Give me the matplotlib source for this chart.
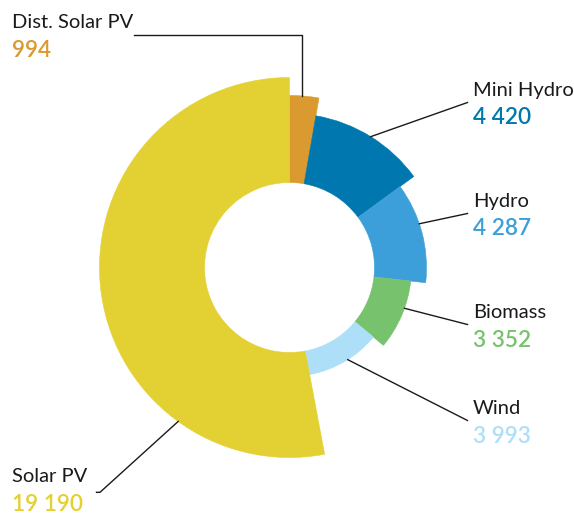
import numpy as np
import matplotlib
matplotlib.use("Agg")
import matplotlib.pyplot as plt
from matplotlib.patches import Wedge

# ---- data ----
categories = ["Dist. Solar PV", "Mini Hydro", "Hydro", "Biomass", "Wind", "Solar PV"]
values = [994, 4420, 4287, 3352, 3993, 19190]
value_labels = ["994", "4 420", "4 287", "3 352", "3 993", "19 190"]

# ---- style ----
colors = ["#DA9A30", "#0077AE", "#3C9FD9", "#77C36D", "#ADE0F8", "#E3D033"]
outer_r = [172, 154, 137, 122, 109, 190]
inner_r = 85
W, H = 574, 516
cx, cy = 289.5, H - 267.5

fig = plt.figure(figsize=(W / 100, H / 100), dpi=100)
ax = fig.add_axes([0, 0, 1, 1])
ax.set_xlim(0, W)
ax.set_ylim(0, H)
ax.set_aspect("equal")
ax.axis("off")

total = float(sum(values))
angles = []
start = 90.0
for v, c, r in zip(values, colors, outer_r):
    span = v / total * 360.0
    t2 = start
    t1 = start - span
    ax.add_patch(Wedge((cx, cy), r, t1, t2, width=r - inner_r,
                       facecolor=c, edgecolor=c, linewidth=0.4))
    angles.append((t1, t2))
    start = t1

def pt(angle, r):
    a = np.deg2rad(angle)
    return cx + r * np.cos(a), cy + r * np.sin(a)

name_font = dict(family="Lato", fontsize=14.5, color="#1a1a1a")
val_font = dict(family="Lato", fontsize=16.3, fontweight="semibold")

# label layout: (x, name baseline from top, value baseline from top)
label_pos = [(12, 28, 57), (473, 96, 124), (473, 207, 235),
             (473, 318, 347), (473, 414, 443), (12, 482, 511)]
# leader anchor angle offsets from wedge mid-angle
anchor_offset = [0.8, 0, 3.7, 3.5, 1.8, 48.8]

lc = "#1a1a1a"
lw = 1.0
for i, (name, vl) in enumerate(zip(categories, value_labels)):
    x, yb1, yb2 = label_pos[i]
    ax.text(x, H - yb1, name, ha="left", va="baseline", **name_font)
    ax.text(x, H - yb2, vl, ha="left", va="baseline", color=colors[i], **val_font)
    t1, t2 = angles[i]
    mid = (t1 + t2) / 2 + anchor_offset[i]
    px, py = pt(mid, outer_r[i])
    if i == 0:
        ax.plot([px, px, 134], [py, H - 35, H - 35], color=lc, lw=lw)
    elif i == 5:
        ax.plot([px, 100, 96.5], [py, H - 492.3, H - 492.3], color=lc, lw=lw)
    else:
        ex, ey = 467.5, H - (yb1 + 6.5)
        ax.plot([px, ex], [py, ey], color=lc, lw=lw)

fig.savefig("out.png", dpi=100, facecolor="white")
